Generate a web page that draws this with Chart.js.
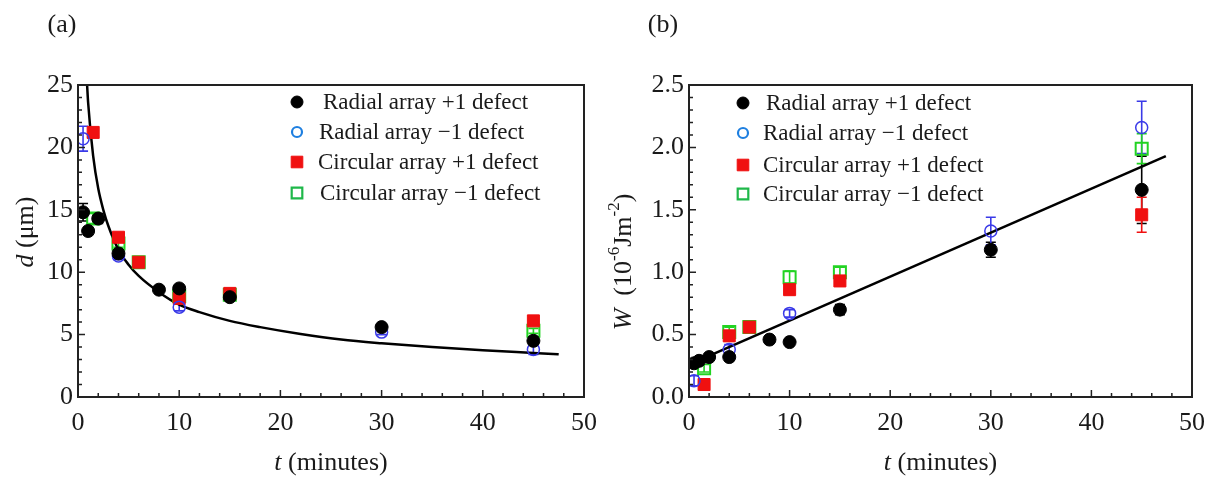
<!DOCTYPE html>
<html><head><meta charset="utf-8">
<script src="https://cdn.jsdelivr.net/npm/chart.js@4.4.0/dist/chart.umd.min.js"></script>
<style>
html,body{margin:0;padding:0;background:#fff;}
#wrap{position:relative;width:1216px;height:478px;overflow:hidden;}
.c{position:absolute;top:0;width:608px;height:478px;}
</style></head><body>
<div id="wrap">
<div class="c" style="left:0"><canvas id="ca" width="608" height="478"></canvas></div>
<div class="c" style="left:608px"><canvas id="cb" width="608" height="478"></canvas></div>
</div>
<script>
// ---------- labels ----------
const seriesLabels = ['Radial array +1 defect', 'Radial array \u22121 defect', 'Circular array +1 defect', 'Circular array \u22121 defect'];
const xTickValues = [0, 10, 20, 30, 40, 50];
const xTickLabels = ['0', '10', '20', '30', '40', '50'];
const aYTickValues = [0, 5, 10, 15, 20, 25];
const aYTickLabels = ['0', '5', '10', '15', '20', '25'];
const bYTickValues = [0, 0.5, 1.0, 1.5, 2.0, 2.5];
const bYTickLabels = ['0.0', '0.5', '1.0', '1.5', '2.0', '2.5'];

// ---------- time values (minutes) ----------
const tRadialPlus = [0.5, 1, 2, 4, 8, 10, 15, 30, 45];
const tRadialMinus = [0.5, 4, 10, 30, 45];
const tCircularPlus = [1.5, 4, 6, 10, 15, 45];
const tCircularMinus = [1.5, 4, 6, 10, 15, 45];

// ---------- panel (a): d (um) ----------
const dRadialPlus = [14.8, 13.3, 14.3, 11.5, 8.6, 8.7, 8.0, 5.6, 4.5];
const dRadialPlusErr = [0.7, 0.3, 0.4, 0.3, 0.2, 0.2, 0.3, 0.2, 0.2];
const dRadialMinus = [20.7, 11.3, 7.2, 5.2, 3.8];
const dRadialMinusErr = [1.0, 0.3, 0.3, 0.2, 0.4];
const dCircularPlus = [21.2, 12.8, 10.8, 7.9, 8.3, 6.1];
const dCircularPlusErr = [0.3, 0.3, 0.2, 0.3, 0.2, 0.2];
const dCircularMinus = [14.3, 12.3, 10.8, 8.1, 8.2, 5.3];
const dCircularMinusErr = [0.4, 0.3, 0.2, 0.3, 0.2, 0.2];
const dFitT = [0.9, 1, 1.5, 2, 2.5, 3, 4, 5, 6, 8, 10, 12, 15, 18, 22, 26, 30, 35, 40, 45, 47.5];
const dFitD = [25, 23.6, 19.3, 16.7, 15.0, 13.7, 11.8, 10.6, 9.7, 8.4, 7.4, 6.8, 6.1, 5.6, 5.05, 4.6, 4.3, 4.0, 3.75, 3.53, 3.42];

// ---------- panel (b): W (1e-6 J m^-2) ----------
const wRadialPlus = [0.27, 0.29, 0.32, 0.32, 0.46, 0.44, 0.70, 1.18, 1.66];
const wRadialPlusErr = [0.02, 0.02, 0.02, 0.03, 0.02, 0.02, 0.04, 0.06, 0.27];
const wRadialMinus = [0.13, 0.38, 0.67, 1.33, 2.16];
const wRadialMinusErr = [0.04, 0.04, 0.03, 0.11, 0.21];
const wCircularPlus = [0.10, 0.49, 0.56, 0.86, 0.93, 1.46];
const wCircularPlusErr = [0.02, 0.04, 0.03, 0.04, 0.04, 0.14];
const wCircularMinus = [0.23, 0.52, 0.56, 0.96, 1.00, 1.99];
const wCircularMinusErr = [0.03, 0.04, 0.03, 0.05, 0.04, 0.12];
const wFitT = [0, 47.4];
const wFitW = [0.26, 1.93];

// ---------- helpers ----------
const SERIF = '"Liberation Serif", "DejaVu Serif", serif';
const pts = (xs, ys) => xs.map((x, i) => ({x: x, y: ys[i]}));

const styles = [
  {pointStyle: 'circle', radius: 6.5, bg: '#000000', border: '#000000', bw: 1, err: '#000000',
   lg: {pointStyle: 'circle', radius: 6, bg: '#000', border: '#000', bw: 1}},
  {pointStyle: 'circle', radius: 6, bg: 'rgba(0,0,0,0)', border: '#3a3ae8', bw: 1.5, err: '#3a3ae8',
   lg: {pointStyle: 'circle', radius: 5, bg: 'rgba(0,0,0,0)', border: '#1e7fe0', bw: 2.2}},
  {pointStyle: 'rect', radius: 8.5, bg: '#f01010', border: '#f01010', bw: 1, err: '#f01010',
   lg: {pointStyle: 'rect', radius: 8.2, bg: '#f01010', border: '#f01010', bw: 1}},
  {pointStyle: 'rect', radius: 8.5, bg: 'rgba(0,0,0,0)', border: '#22d322', bw: 2, err: '#22d322',
   lg: {pointStyle: 'rect', radius: 7.5, bg: 'rgba(0,0,0,0)', border: '#1fb84a', bw: 2.2}}
];

function makeDatasets(seriesPts, seriesErr, fitPts, curved) {
  const ds = seriesPts.map((p, i) => ({
    type: 'scatter', label: seriesLabels[i], data: p, errs: seriesErr[i],
    pointStyle: styles[i].pointStyle, pointRadius: styles[i].radius,
    backgroundColor: styles[i].bg, borderColor: styles[i].border, pointBorderWidth: styles[i].bw,
    errColor: styles[i].err, showLine: false, order: i
  }));
  ds.push({type: 'line', label: 'fit', data: fitPts, borderColor: '#000', borderWidth: 2.5,
    pointRadius: 0, fill: false, cubicInterpolationMode: curved ? 'monotone' : 'default', tension: 0, order: 10});
  return ds;
}

function drawRuns(ctx, runs, cx, cy, rot) {
  ctx.save();
  ctx.translate(cx, cy);
  ctx.rotate(rot);
  let total = 0;
  runs.forEach(r => { ctx.font = r.font; total += ctx.measureText(r.text).width; });
  let x = -total / 2;
  ctx.textBaseline = 'middle';
  ctx.textAlign = 'left';
  ctx.fillStyle = '#1a1a1a';
  runs.forEach(r => {
    ctx.font = r.font;
    ctx.fillText(r.text, x, r.dy || 0);
    x += ctx.measureText(r.text).width;
  });
  ctx.restore();
}

const decor = {
  id: 'decor',
  beforeDatasetsDraw(chart, args, o) {
    const ctx = chart.ctx, xs = chart.scales.x, ys = chart.scales.y;
    ctx.save();
    chart.data.datasets.forEach(ds => {
      if (!ds.errs) return;
      ctx.strokeStyle = ds.errColor;
      ctx.lineWidth = 1.6;
      ds.data.forEach((p, i) => {
        const e = ds.errs[i];
        const px = xs.getPixelForValue(p.x);
        const y1 = ys.getPixelForValue(p.y + e), y2 = ys.getPixelForValue(p.y - e);
        ctx.beginPath();
        ctx.moveTo(px, y1); ctx.lineTo(px, y2);
        ctx.moveTo(px - 5, y1); ctx.lineTo(px + 5, y1);
        ctx.moveTo(px - 5, y2); ctx.lineTo(px + 5, y2);
        ctx.stroke();
      });
    });
    ctx.restore();
  },
  afterDraw(chart, args, o) {
    const ctx = chart.ctx, a = chart.chartArea, xs = chart.scales.x, ys = chart.scales.y;
    ctx.save();
    // frame
    ctx.strokeStyle = '#222';
    ctx.lineWidth = 2;
    ctx.strokeRect(a.left, a.top, a.right - a.left, a.bottom - a.top);
    // inward ticks
    ctx.lineWidth = 1.5;
    ctx.beginPath();
    for (let v = 2; v < 50; v += 2) {
      const px = xs.getPixelForValue(v);
      const len = (v % 10 === 0) ? 7 : 4;
      ctx.moveTo(px, a.bottom); ctx.lineTo(px, a.bottom - len);
    }
    for (let k = 1; k < o.yMinorCount; k++) {
      const v = k * o.yMinorStep;
      const py = ys.getPixelForValue(v);
      const len = (k % 5 === 0) ? 7 : 4;
      ctx.moveTo(a.left, py); ctx.lineTo(a.left + len, py);
    }
    ctx.stroke();
    // titles
    drawRuns(ctx, o.xTitle, (a.left + a.right) / 2, 463, 0);
    drawRuns(ctx, o.yTitle, o.yTitleX, o.yTitleY, -Math.PI / 2);
    // panel label
    ctx.font = '26px ' + SERIF;
    ctx.fillStyle = '#1a1a1a';
    ctx.textAlign = 'center'; ctx.textBaseline = 'middle';
    ctx.fillText(o.panel, o.panelX, 25);
    // legend
    ctx.font = '23px ' + SERIF;
    ctx.textAlign = 'left';
    chart.data.datasets.slice(0, 4).forEach((ds, i) => {
      const lg = styles[i].lg;
      const y = o.legendY[i];
      ctx.fillStyle = lg.bg; ctx.strokeStyle = lg.border; ctx.lineWidth = lg.bw;
      Chart.helpers.drawPoint(ctx, {pointStyle: lg.pointStyle, radius: lg.radius, borderWidth: lg.bw, rotation: 0}, o.legendMarkerX, y);
      ctx.fillStyle = '#1a1a1a';
      ctx.fillText(ds.label, o.legendTextX[i], y + 1);
    });
    ctx.restore();
  }
};

function makeChart(id, datasets, yMax, yTickVals, yTickLabs, yWidth, padRight, decorOpts) {
  return new Chart(document.getElementById(id), {
    data: {datasets: datasets},
    options: {
      responsive: false, devicePixelRatio: 1, animation: false,
      layout: {padding: {left: 0, right: padRight, top: 85, bottom: 0}},
      plugins: {legend: {display: false}, tooltip: {enabled: false}, decor: decorOpts},
      scales: {
        x: {type: 'linear', min: 0, max: 50,
          afterFit: s => { s.height = 81; },
          afterBuildTicks: s => { s.ticks = xTickValues.map(v => ({value: v})); },
          grid: {display: false, drawTicks: false}, border: {display: false},
          ticks: {padding: 11, color: '#1a1a1a', maxRotation: 0, autoSkip: false,
            font: {family: SERIF, size: 26},
            callback: v => xTickLabels[xTickValues.indexOf(v)]}},
        y: {type: 'linear', min: 0, max: yMax,
          afterFit: s => { s.width = yWidth; },
          afterBuildTicks: s => { s.ticks = yTickVals.map(v => ({value: v})); },
          grid: {display: false, drawTicks: false}, border: {display: false},
          ticks: {padding: 5, color: '#1a1a1a', autoSkip: false,
            font: {family: SERIF, size: 26},
            callback: v => { const i = yTickVals.findIndex(t => Math.abs(t - v) < 1e-9); return yTickLabs[i]; }}}
      }
    },
    plugins: [decor]
  });
}

const regular = '26px ' + SERIF, italic = 'italic 26px ' + SERIF, sup = '17px ' + SERIF;

makeChart('ca',
  makeDatasets(
    [pts(tRadialPlus, dRadialPlus), pts(tRadialMinus, dRadialMinus), pts(tCircularPlus, dCircularPlus), pts(tCircularMinus, dCircularMinus)],
    [dRadialPlusErr, dRadialMinusErr, dCircularPlusErr, dCircularMinusErr],
    pts(dFitT, dFitD), true),
  25, aYTickValues, aYTickLabels, 78, 23,
  {panel: '(a)', panelX: 62, yMinorStep: 1, yMinorCount: 25,
   xTitle: [{text: 't', font: italic}, {text: ' (minutes)', font: regular}],
   yTitle: [{text: 'd', font: italic}, {text: ' (\u03bcm)', font: regular}],
   yTitleX: 26, yTitleY: 232,
   legendMarkerX: 297, legendY: [102, 132, 162, 193], legendTextX: [323, 319, 318, 320]});

makeChart('cb',
  makeDatasets(
    [pts(tRadialPlus, wRadialPlus), pts(tRadialMinus, wRadialMinus), pts(tCircularPlus, wCircularPlus), pts(tCircularMinus, wCircularMinus)],
    [wRadialPlusErr, wRadialMinusErr, wCircularPlusErr, wCircularMinusErr],
    pts(wFitT, wFitW), false),
  2.5, bYTickValues, bYTickLabels, 81, 20,
  {panel: '(b)', panelX: 55, yMinorStep: 0.1, yMinorCount: 25,
   xTitle: [{text: 't', font: italic}, {text: ' (minutes)', font: regular}],
   yTitle: [{text: 'W', font: italic}, {text: '  (10', font: regular}, {text: '-6', font: sup, dy: -9},
            {text: 'Jm', font: regular}, {text: '-2', font: sup, dy: -9}, {text: ')', font: regular}],
   yTitleX: 16, yTitleY: 262,
   legendMarkerX: 135, legendY: [103, 133, 165, 194], legendTextX: [158, 155, 155, 155]});
</script>
</body></html>
